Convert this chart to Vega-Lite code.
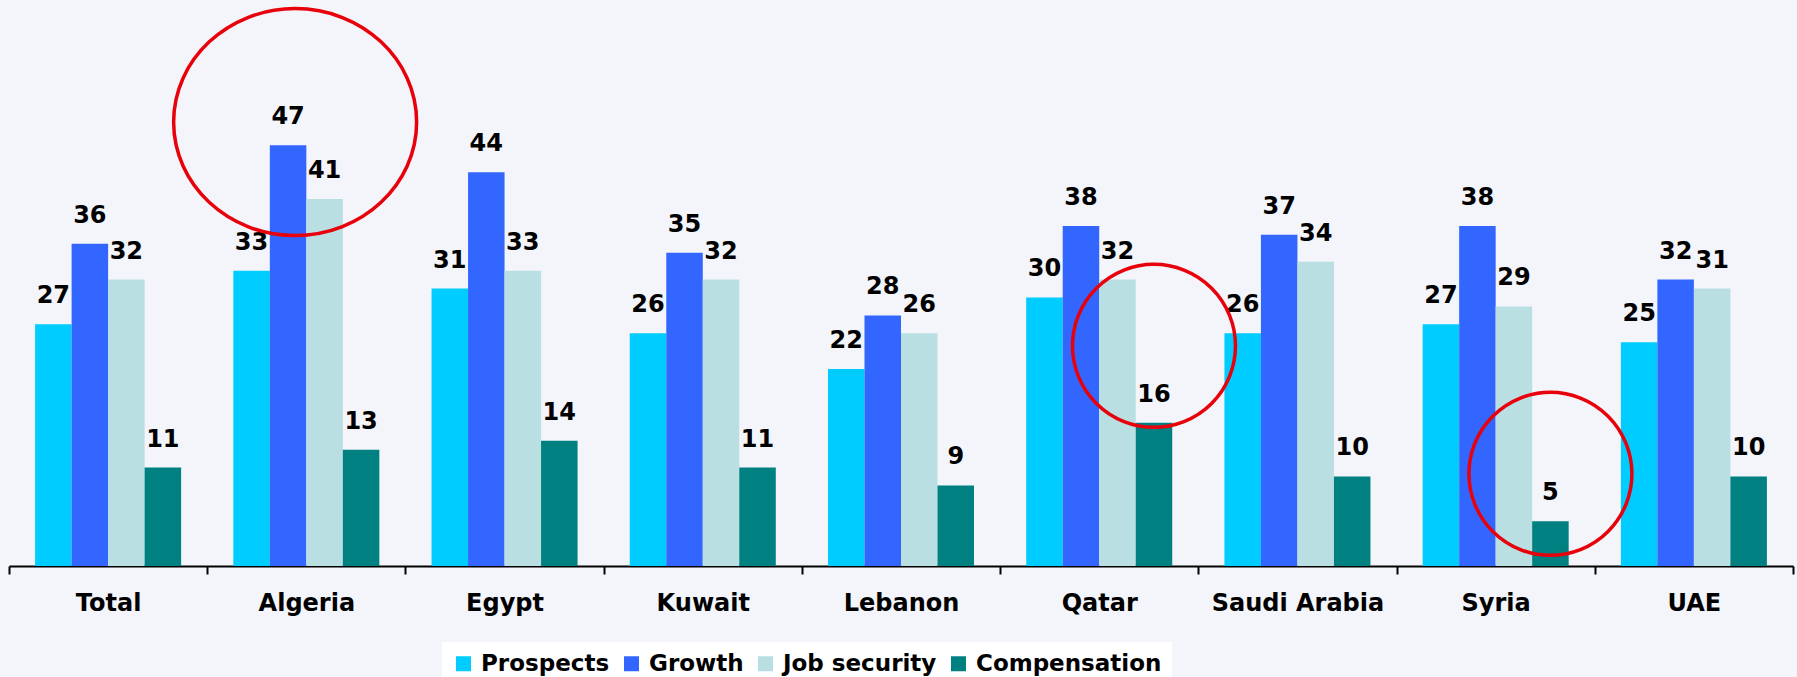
{
  "$schema": "https://vega.github.io/schema/vega-lite/v6.json",
  "width": 1784,
  "height": 566,
  "autosize": "none",
  "padding": {"left": 9, "top": 0, "right": 4, "bottom": 111},
  "background": "#f3f5fa",
  "config": {"view": {"stroke": null}, "font": "DejaVu Sans"},
  "datasets": {
    "scores": [
      {"country": "Total", "measure": "Prospects", "value": 27},
      {"country": "Total", "measure": "Growth", "value": 36},
      {"country": "Total", "measure": "Job security", "value": 32},
      {"country": "Total", "measure": "Compensation", "value": 11},
      {"country": "Algeria", "measure": "Prospects", "value": 33},
      {"country": "Algeria", "measure": "Growth", "value": 47},
      {"country": "Algeria", "measure": "Job security", "value": 41},
      {"country": "Algeria", "measure": "Compensation", "value": 13},
      {"country": "Egypt", "measure": "Prospects", "value": 31},
      {"country": "Egypt", "measure": "Growth", "value": 44},
      {"country": "Egypt", "measure": "Job security", "value": 33},
      {"country": "Egypt", "measure": "Compensation", "value": 14},
      {"country": "Kuwait", "measure": "Prospects", "value": 26},
      {"country": "Kuwait", "measure": "Growth", "value": 35},
      {"country": "Kuwait", "measure": "Job security", "value": 32},
      {"country": "Kuwait", "measure": "Compensation", "value": 11},
      {"country": "Lebanon", "measure": "Prospects", "value": 22},
      {"country": "Lebanon", "measure": "Growth", "value": 28},
      {"country": "Lebanon", "measure": "Job security", "value": 26},
      {"country": "Lebanon", "measure": "Compensation", "value": 9},
      {"country": "Qatar", "measure": "Prospects", "value": 30},
      {"country": "Qatar", "measure": "Growth", "value": 38},
      {"country": "Qatar", "measure": "Job security", "value": 32},
      {"country": "Qatar", "measure": "Compensation", "value": 16},
      {"country": "Saudi Arabia", "measure": "Prospects", "value": 26},
      {"country": "Saudi Arabia", "measure": "Growth", "value": 37},
      {"country": "Saudi Arabia", "measure": "Job security", "value": 34},
      {"country": "Saudi Arabia", "measure": "Compensation", "value": 10},
      {"country": "Syria", "measure": "Prospects", "value": 27},
      {"country": "Syria", "measure": "Growth", "value": 38},
      {"country": "Syria", "measure": "Job security", "value": 29},
      {"country": "Syria", "measure": "Compensation", "value": 5},
      {"country": "UAE", "measure": "Prospects", "value": 25},
      {"country": "UAE", "measure": "Growth", "value": 32},
      {"country": "UAE", "measure": "Job security", "value": 31},
      {"country": "UAE", "measure": "Compensation", "value": 10}
    ],
    "rings": [
      {"country": "Algeria", "measure": "Growth", "value": 49.6, "ring": "large"},
      {"country": "Qatar", "measure": "Compensation", "value": 24.6, "ring": "small"},
      {"country": "Syria", "measure": "Compensation", "value": 10.3, "ring": "small"}
    ]
  },
  "encoding": {
    "x": {
      "field": "country",
      "type": "nominal",
      "sort": null,
      "scale": {
        "domain": ["Total", "Algeria", "Egypt", "Kuwait", "Lebanon", "Qatar", "Saudi Arabia", "Syria", "UAE"],
        "paddingInner": 0,
        "paddingOuter": 0
      },
      "axis": {
        "title": null,
        "labelAngle": 0,
        "labelFont": "DejaVu Sans",
        "labelFontWeight": "bold",
        "labelFontSize": 24,
        "labelColor": "#000000",
        "domainColor": "#000000",
        "domainWidth": 2,
        "tickColor": "#000000",
        "tickWidth": 2,
        "tickSize": 8,
        "tickBand": "extent",
        "labelPadding": 17,
        "grid": false
      }
    },
    "xOffset": {
      "field": "measure",
      "type": "nominal",
      "sort": null,
      "scale": {
        "domain": ["Prospects", "Growth", "Job security", "Compensation"],
        "paddingInner": 0,
        "paddingOuter": 0.715
      }
    },
    "y": {
      "field": "value",
      "type": "quantitative",
      "scale": {"domain": [0, 63.24], "nice": false, "zero": true},
      "axis": null
    }
  },
  "layer": [
    {
      "data": {"name": "scores"},
      "mark": {"type": "bar"},
      "encoding": {
        "color": {
          "field": "measure",
          "type": "nominal",
          "sort": null,
          "scale": {
            "domain": ["Prospects", "Growth", "Job security", "Compensation"],
            "range": ["#00ccff", "#3366ff", "#b9dfe3", "#008080"]
          },
          "legend": {
            "title": null,
            "orient": "none",
            "legendX": 433,
            "legendY": 642,
            "direction": "horizontal",
            "columns": 4,
            "symbolType": "square",
            "symbolSize": 225,
            "symbolStrokeWidth": 0,
            "symbolOpacity": 1,
            "labelFont": "DejaVu Sans",
            "labelFontWeight": "bold",
            "labelFontSize": 23,
            "labelColor": "#000000",
            "labelLimit": 400,
            "labelOffset": 6,
            "columnPadding": 10,
            "padding": 10,
            "fillColor": "#ffffff",
            "strokeColor": null
          }
        }
      }
    },
    {
      "data": {"name": "scores"},
      "mark": {
        "type": "text",
        "baseline": "alphabetic",
        "align": "center",
        "dy": -21,
        "font": "DejaVu Sans",
        "fontWeight": "bold",
        "fontSize": 24,
        "color": "#000000"
      },
      "encoding": {"text": {"field": "value", "type": "quantitative"}}
    },
    {
      "data": {"name": "rings"},
      "transform": [{"filter": "datum.ring === 'large'"}],
      "mark": {
        "type": "point",
        "shape": "M-0.942,0A1,0.934,0,1,1,1.058,0A1,0.934,0,1,1,-0.942,0Z",
        "size": 59049,
        "filled": false,
        "stroke": "#e8000b",
        "strokeWidth": 3.5,
        "opacity": 1
      }
    },
    {
      "data": {"name": "rings"},
      "transform": [{"filter": "datum.ring === 'small'"}],
      "mark": {
        "type": "point",
        "shape": "circle",
        "size": 26569,
        "filled": false,
        "stroke": "#e8000b",
        "strokeWidth": 3.5,
        "opacity": 1
      }
    }
  ]
}
